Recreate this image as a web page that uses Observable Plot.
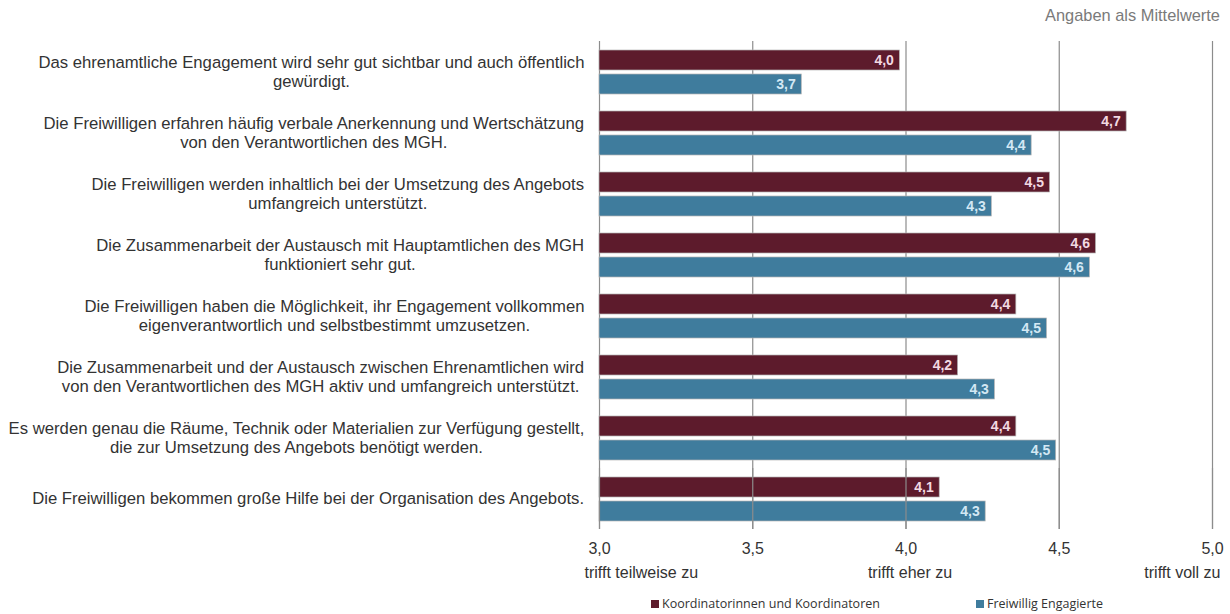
<!DOCTYPE html>
<html><head><meta charset="utf-8">
<script src="https://cdn.jsdelivr.net/npm/d3@7"></script>
<script src="https://cdn.jsdelivr.net/npm/@observablehq/plot@0.6"></script>
<style>
body{margin:0;background:#fff;font-family:"Liberation Sans",Arial,sans-serif;width:1230px;height:614px;position:relative;overflow:hidden}
#note{height:40px;position:relative}
#note span{position:absolute;right:10px;top:6px;font-size:16.4px;color:#7a7a7a}
#legend{position:absolute;left:651px;top:595px;font-family:"Open Sans",sans-serif;font-size:12.5px;color:#333}
#legend .item{display:flex;align-items:center;position:absolute;white-space:nowrap}
#legend .sw{width:8px;height:8px;margin-right:3px}
</style></head><body>
<div id="note"><span>Angaben als Mittelwerte</span></div>
<div id="chart"></div>
<div id="legend"></div>
<script>
const categories = [
  "Das ehrenamtliche Engagement wird sehr gut sichtbar und auch öffentlich\ngewürdigt.",
  "Die Freiwilligen erfahren häufig verbale Anerkennung und Wertschätzung\nvon den Verantwortlichen des MGH.",
  "Die Freiwilligen werden inhaltlich bei der Umsetzung des Angebots\numfangreich unterstützt.",
  "Die Zusammenarbeit der Austausch mit Hauptamtlichen des MGH\nfunktioniert sehr gut.",
  "Die Freiwilligen haben die Möglichkeit, ihr Engagement vollkommen\neigenverantwortlich und selbstbestimmt umzusetzen.",
  "Die Zusammenarbeit und der Austausch zwischen Ehrenamtlichen wird\nvon den Verantwortlichen des MGH aktiv und umfangreich unterstützt.",
  "Es werden genau die Räume, Technik oder Materialien zur Verfügung gestellt,\ndie zur Umsetzung des Angebots benötigt werden.",
  "Die Freiwilligen bekommen große Hilfe bei der Organisation des Angebots."
];
const series = ["Koordinatorinnen und Koordinatoren", "Freiwillig Engagierte"];
const koordValues = [3.98, 4.72, 4.47, 4.62, 4.36, 4.17, 4.36, 4.11];
const freiwValues = [3.66, 4.41, 4.28, 4.60, 4.46, 4.29, 4.49, 4.26];
const colors = ["#5d1b2c", "#3f7c9d"];
const labelColors = ["#f3d9e2", "#d3e8f4"];
const xTicks = [3.0, 3.5, 4.0, 4.5, 5.0];
const xSubTicks = [3.0, 4.0, 5.0];
const xSubLabels = ["trifft teilweise zu", "trifft eher zu", "trifft voll zu"];

const rows = [];
categories.forEach((c, i) => {
  rows.push({cat: c, series: series[0], value: koordValues[i]});
  rows.push({cat: c, series: series[1], value: freiwValues[i]});
});
const subRows = xSubTicks.map((x, i) => ({x, label: xSubLabels[i]}));
const lastCat = categories[categories.length - 1];
const fmt = v => d3.format(".1f")(v).replace(".", ",");

const ctx = document.createElement("canvas").getContext("2d");
const catFont = 16.7;
ctx.font = catFont + "px 'Liberation Sans'";
const catWidth = c => Math.max(...c.split("\n").map(l => ctx.measureText(l).width));

const catMarks = categories.map(c => Plot.text([c], {
  fy: d => d, x: () => 3, text: d => d, frameAnchor: "middle",
  textAnchor: "middle", dx: -(catWidth(c) / 2 + 15), dy: -1, fontSize: catFont,
  lineHeight: 1.15, fill: "#333"
}));

const plot = Plot.plot({
  width: 1230, height: 548,
  marginLeft: 599, marginRight: 18, marginTop: 0, marginBottom: 58,
  style: {fontFamily: "'Liberation Sans', Arial, sans-serif", fontSize: "16px", color: "#333", background: "#fff"},
  x: {domain: [3, 5], axis: null},
  fy: {domain: categories, axis: null, padding: 0},
  y: {domain: series, axis: null, paddingInner: 0.167, paddingOuter: 0.354},
  color: {domain: series, range: colors},
  marks: [
    Plot.ruleX(xTicks, {stroke: "#8c8c8c", strokeWidth: 1.2}),
    Plot.barX(rows, {fy: "cat", y: "series", x1: () => 3, x2: "value", fill: "series", stroke: "#b5b5b5", strokeWidth: 0.7}),
    Plot.text(rows, {fy: "cat", y: "series", x: "value", text: d => fmt(d.value), textAnchor: "end", dx: -6,
      fill: d => labelColors[series.indexOf(d.series)], fontSize: 14, fontWeight: "bold"}),
    ...catMarks,
    Plot.tickX(xTicks, {fy: () => lastCat, x: d => d, stroke: "#8c8c8c", strokeWidth: 1.2}),
    Plot.text(xTicks, {fy: () => lastCat, x: d => d, text: d => fmt(d), frameAnchor: "bottom", dy: 24, fontSize: 16, fill: "#333"}),
    Plot.text(subRows.filter(d => d.x === 3), {fy: () => lastCat, x: "x", text: "label", frameAnchor: "bottom", dy: 48, textAnchor: "start", dx: -15, fontSize: 16, fill: "#333"}),
    Plot.text(subRows.filter(d => d.x === 4), {fy: () => lastCat, x: "x", text: "label", frameAnchor: "bottom", dy: 48, textAnchor: "middle", dx: 4, fontSize: 16, fill: "#333"}),
    Plot.text(subRows.filter(d => d.x === 5), {fy: () => lastCat, x: "x", text: "label", frameAnchor: "bottom", dy: 48, textAnchor: "end", dx: 8, fontSize: 16, fill: "#333"})
  ]
});
document.getElementById("chart").appendChild(plot);

const legend = document.getElementById("legend");
const legendX = [0, 325];
series.forEach((s, i) => {
  const it = document.createElement("div");
  it.className = "item";
  it.style.left = legendX[i] + "px";
  it.innerHTML = `<span class="sw" style="background:${colors[i]}"></span><span>${s}</span>`;
  legend.appendChild(it);
});
</script>
</body></html>
